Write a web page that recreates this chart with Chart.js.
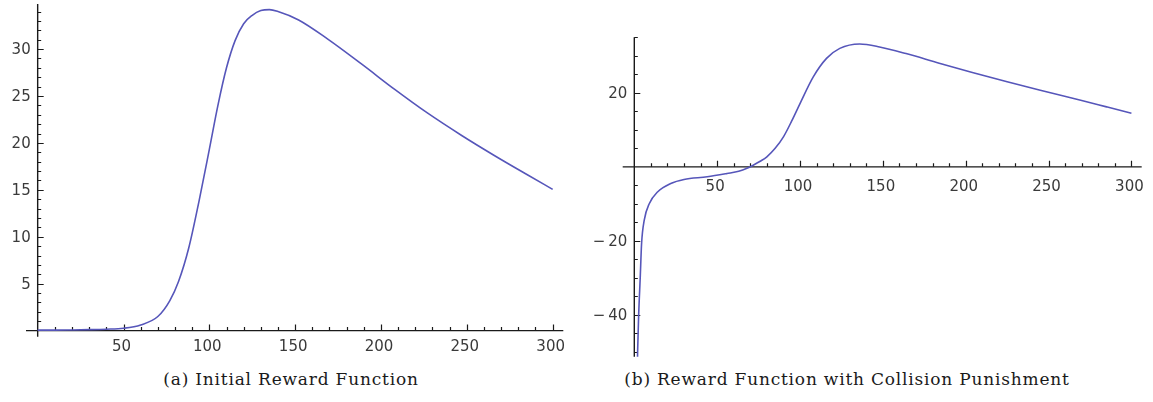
<!DOCTYPE html>
<html>
<head>
<meta charset="utf-8">
<script src="https://cdn.jsdelivr.net/npm/chart.js@4.4.1/dist/chart.umd.min.js"></script>
<style>
    body { margin: 0; background: #fff; width: 1153px; height: 402px; position: relative; overflow: hidden; }
    .plot { position: absolute; top: 0; height: 362px; }
    .caption { position: absolute; top: 369px; font-family: "DejaVu Serif", serif; font-size: 17px; letter-spacing: 0.8px; color: #1a1a1a; white-space: nowrap; transform: translateX(-50%); }
</style>
</head>
<body>
<div class="plot" style="left:0;width:580px"><canvas id="chartA"></canvas></div>
<div class="plot" style="left:580px;width:573px"><canvas id="chartB"></canvas></div>
<div class="caption" style="left:291px">(a) Initial Reward Function</div>
<div class="caption" style="left:847px">(b) Reward Function with Collision Punishment</div>
<script>
// (a) initial reward
const distA = [0, 10, 20, 30, 40, 50, 60, 70, 77, 82, 88, 94, 100, 105, 110, 115, 120, 125, 130, 135, 140, 152, 169, 189, 208, 227, 247, 266, 285, 300];
const rewardA = [0.05, 0.05, 0.07, 0.1, 0.15, 0.25, 0.6, 1.5, 3.2, 5.2, 8.8, 13.8, 19.3, 24.0, 28.0, 30.9, 32.7, 33.6, 34.1, 34.2, 34.0, 33.1, 31.06, 28.36, 25.7, 23.19, 20.79, 18.66, 16.63, 15.05];

// (b) reward with collision punishment
const distB = [1.8, 2.0, 2.6, 3.6, 4.4, 6.0, 9.1, 14, 22, 30, 44, 56, 63, 68, 72, 76, 80, 85, 90, 95, 100, 108, 116, 124, 136, 148, 164, 184, 204, 225, 245, 270, 285, 300];
const rewardB = [-55, -50, -40.5, -29.7, -20.7, -14.4, -9.9, -6.8, -4.5, -3.4, -2.7, -1.8, -1.2, -0.4, 0.5, 1.5, 2.7, 5.0, 8.1, 12.4, 17.1, 24.3, 29.3, 32.0, 33.2, 32.4, 30.6, 28.0, 25.5, 23.0, 20.7, 17.9, 16.2, 14.5];

// tick labels
const xTicksA = [50, 100, 150, 200, 250, 300];
const yTicksA = [5, 10, 15, 20, 25, 30];
const xTicksB = [50, 100, 150, 200, 250, 300];
const yTicksB = [-40, -20, 20];

const lineColor = 'rgb(86, 86, 186)';

// Mathematica-like axes crossing at the origin, ticks pointing inward
const mathAxes = {
    id: 'mathAxes',
    beforeDatasetsDraw(chart, args, opts) {
        const { ctx, chartArea, scales: { x, y } } = chart;
        const x0 = x.getPixelForValue(0);
        const y0 = y.getPixelForValue(0);
        ctx.save();
        ctx.strokeStyle = '#1a1a1a';
        ctx.lineWidth = 1.4;
        ctx.beginPath();
        ctx.moveTo(chartArea.left, y0);
        ctx.lineTo(chartArea.right, y0);
        ctx.moveTo(x0, chartArea.top);
        ctx.lineTo(x0, chartArea.bottom);
        ctx.stroke();

        ctx.lineWidth = 1.2;
        ctx.beginPath();
        for (let v = Math.ceil(x.min / opts.xMinor) * opts.xMinor; v <= x.max; v += opts.xMinor) {
            if (v === 0) continue;
            const len = v % opts.xMajor === 0 ? 6 : 3.5;
            const px = Math.round(x.getPixelForValue(v)) + 0.5;
            ctx.moveTo(px, y0);
            ctx.lineTo(px, y0 - len);
        }
        for (let v = Math.ceil(y.min / opts.yMinor) * opts.yMinor; v <= y.max; v += opts.yMinor) {
            if (v === 0) continue;
            const len = v % opts.yMajor === 0 ? 6 : 3.5;
            const py = Math.round(y.getPixelForValue(v)) + 0.5;
            ctx.moveTo(x0, py);
            ctx.lineTo(x0 + len, py);
        }
        ctx.stroke();

        ctx.fillStyle = '#3a3a3a';
        ctx.font = '15px "DejaVu Sans"';
        ctx.textAlign = 'center';
        ctx.textBaseline = 'middle';
        opts.xLabels.forEach(v => {
            ctx.fillText(String(v), x.getPixelForValue(v) - 2, y0 + opts.xLabelGap);
        });
        ctx.textAlign = 'right';
        opts.yLabels.forEach(v => {
            const txt = v < 0 ? '\u2212\u2009' + Math.abs(v) : String(v);
            ctx.fillText(txt, x0 - 7, y.getPixelForValue(v) + 1);
        });
        ctx.restore();
    }
};

function makeChart(id, xs, ys, range, padding, axesOpts) {
    const ctx = document.getElementById(id).getContext('2d');
    return new Chart(ctx, {
        type: 'scatter',
        data: {
            datasets: [{
                data: xs.map((v, i) => ({ x: v, y: ys[i] })),
                showLine: true,
                borderColor: lineColor,
                borderWidth: 1.6,
                pointRadius: 0,
                cubicInterpolationMode: 'monotone',
                fill: false,
            }],
        },
        options: {
            responsive: true,
            maintainAspectRatio: false,
            animation: false,
            events: [],
            layout: { padding: padding },
            plugins: {
                legend: { display: false },
                tooltip: { enabled: false },
                mathAxes: axesOpts,
            },
            scales: {
                x: { type: 'linear', min: range.xMin, max: range.xMax, display: false },
                y: { type: 'linear', min: range.yMin, max: range.yMax, display: false },
            },
        },
        plugins: [mathAxes],
    });
}

makeChart('chartA', distA, rewardA,
    { xMin: -6.8, xMax: 306.2, yMin: -0.65, yMax: 34.8 },
    { top: 4, right: 16.7, bottom: 25.3, left: 26 },
    { xMinor: 10, xMajor: 50, yMinor: 1, yMajor: 5, xLabels: xTicksA, yLabels: yTicksA, xLabelGap: 17 });

makeChart('chartB', distB, rewardB,
    { xMin: -7, xMax: 306.2, yMin: -51.3, yMax: 35 },
    { top: 37.3, right: 11.3, bottom: 5.3, left: 42.7 },
    { xMinor: 10, xMajor: 50, yMinor: 5, yMajor: 20, xLabels: xTicksB, yLabels: yTicksB, xLabelGap: 20 });
</script>
</body>
</html>
